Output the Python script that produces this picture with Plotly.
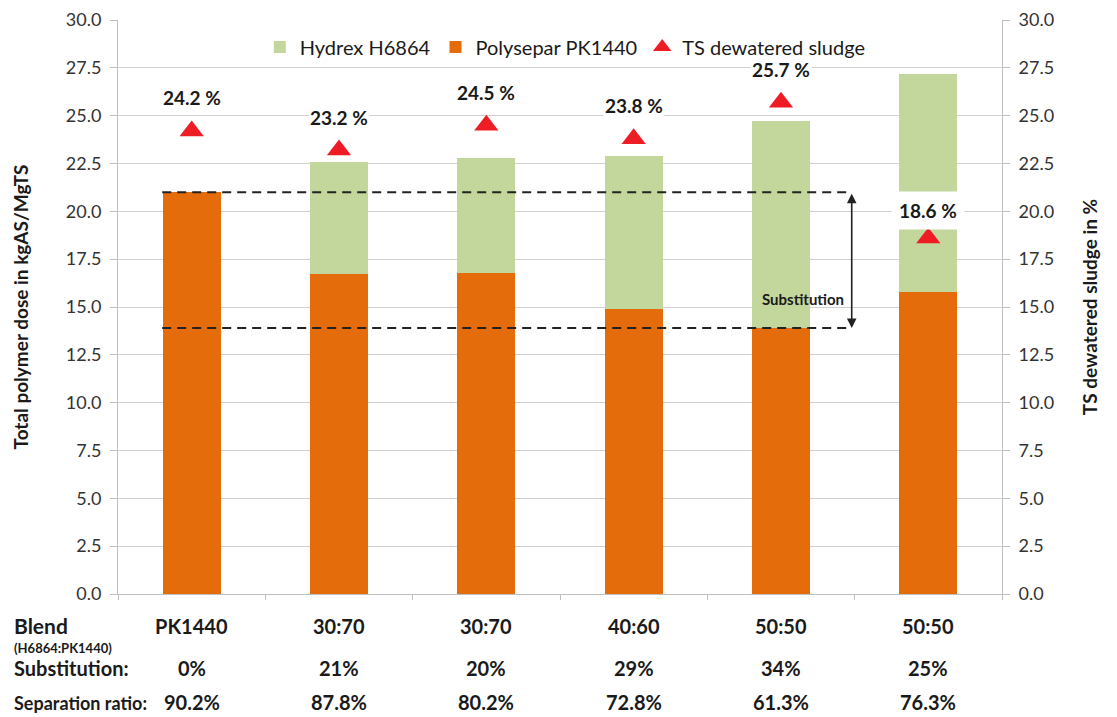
import plotly.graph_objects as go

# ---- data ----
blend = ["PK1440", "30:70", "30:70", "40:60", "50:50", "50:50"]
polysepar = [21.0, 16.7, 16.8, 14.9, 13.9, 15.8]
hydrex = [0.0, 5.9, 6.0, 8.0, 10.8, 11.4]
ts_sludge = [24.2, 23.2, 24.5, 23.8, 25.7, 18.6]
substitution = ["0%", "21%", "20%", "29%", "34%", "25%"]
separation = ["90.2%", "87.8%", "80.2%", "72.8%", "61.3%", "76.3%"]
yticks = [0, 2.5, 5, 7.5, 10, 12.5, 15, 17.5, 20, 22.5, 25, 27.5, 30]

FONT = "Lato, 'Open Sans', sans-serif"
ORANGE = "#E46C0A"
GREEN = "#C3D69B"
RED = "#EE1C25"
TXT = "#1a1a1a"
GRID = "#D0D0D0"
xs = list(range(len(blend)))

fig = go.Figure()
fig.add_trace(go.Bar(x=xs, y=polysepar, name="Polysepar PK1440", marker_color=ORANGE,
                     marker_line_width=0, legendrank=2, width=0.395))
fig.add_trace(go.Bar(x=xs, y=hydrex, name="Hydrex H6864", marker_color=GREEN,
                     marker_line_width=0, legendrank=1, width=0.395))
fig.add_trace(go.Scatter(x=xs, y=ts_sludge, name="TS dewatered sludge", mode="markers",
                         marker=dict(symbol="triangle-up", size=21, color=RED, line_width=0),
                         yaxis="y2", legendrank=3))

# TS labels
for i, v in enumerate(ts_sludge):
    last = (i == len(ts_sludge) - 1)
    fig.add_annotation(x=i, y=v, yref="y2", text=f"<b>{v:.1f} %</b>", showarrow=False,
                       yshift=28 if last else 33, bgcolor="white",
                       borderpad=7 if last else 1,
                       font=dict(family=FONT, size=19, color=TXT))

# substitution reference lines
top = polysepar[0]
bottom = polysepar[4]
for yv in (top, bottom):
    fig.add_shape(type="line", xref="x", yref="y", x0=-0.2, x1=4.47, y0=yv, y1=yv,
                  line=dict(color="#222222", width=2, dash="9px,6px"))
fig.add_annotation(x=4.48, y=bottom, ax=4.48, ay=top, xref="x", yref="y", axref="x", ayref="y",
                   showarrow=True, arrowhead=2, startarrowhead=2, arrowside="end+start",
                   arrowsize=1.2, arrowwidth=1.6, arrowcolor="#222222", text="")
fig.add_annotation(x=4.44, y=15.4, xref="x", yref="y", text="<b>Substitution</b>",
                   showarrow=False, xanchor="right",
                   font=dict(family=FONT, size=15, color=TXT))

# bottom table
rows_y = {"blend": -0.0804, "sub": -0.1538, "sep": -0.2121}
txtfont = dict(family=FONT, size=20, color=TXT)
fig.add_annotation(x=-0.12, y=rows_y["blend"], xref="paper", yref="paper", text="<b>Blend</b>",
                   showarrow=False, xanchor="left", font=dict(family=FONT, size=21, color=TXT))
fig.add_annotation(x=-0.12, y=-0.1116, xref="paper", yref="paper", text="<b>(H6864:PK1440)</b>",
                   showarrow=False, xanchor="left", font=dict(family=FONT, size=13, color=TXT))
fig.add_annotation(x=-0.12, y=rows_y["sub"], xref="paper", yref="paper", text="<b>Substitution:</b>",
                   showarrow=False, xanchor="left", font=dict(family=FONT, size=20, color=TXT))
fig.add_annotation(x=-0.12, y=rows_y["sep"], xref="paper", yref="paper", text="<b>Separation ratio:</b>",
                   showarrow=False, xanchor="left", font=dict(family=FONT, size=18, color=TXT))
for i in xs:
    fig.add_annotation(x=i, y=rows_y["blend"], xref="x", yref="paper", text=f"<b>{blend[i]}</b>",
                       showarrow=False, font=txtfont)
    fig.add_annotation(x=i, y=rows_y["sub"], xref="x", yref="paper", text=f"<b>{substitution[i]}</b>",
                       showarrow=False, font=txtfont)
    fig.add_annotation(x=i, y=rows_y["sep"], xref="x", yref="paper", text=f"<b>{separation[i]}</b>",
                       showarrow=False, font=txtfont)

axis_common = dict(range=[0, 30], tickvals=yticks, ticktext=[f"{t:.1f}" for t in yticks],
                   showline=True, linecolor="#BFBFBF", linewidth=1, ticks="outside",
                   ticklen=7, tickcolor="#BFBFBF", tickfont=dict(family=FONT, size=18, color="#333333"),
                   zeroline=False, ticklabelstandoff=5, ticklabeloverflow="allow",
                   automargin=False)

fig.update_layout(
    template="none",
    width=1109, height=709,
    margin=dict(l=110, r=115, t=12, b=123),
    paper_bgcolor="white", plot_bgcolor="rgba(0,0,0,0)",
    barmode="stack",
    showlegend=True,
    legend=dict(orientation="h", x=0.506, y=0.953, xanchor="center", yanchor="middle",
                traceorder="normal",
                font=dict(family=FONT, size=20, color=TXT), bgcolor="rgba(255,255,255,0)",
                itemwidth=30),
    xaxis=dict(range=[-0.5, 5.5], tickvals=[-0.5, 0.5, 1.5, 2.5, 3.5, 4.5, 5.5],
               ticktext=[""] * 7, showline=True, linecolor="#BFBFBF", ticks="outside",
               ticklen=5, tickcolor="#BFBFBF", showgrid=False, zeroline=False, automargin=False),
    yaxis=dict(**axis_common, showgrid=True, gridcolor=GRID, gridwidth=1,
               title=dict(text="<b>Total polymer dose in kgAS/MgTS</b>", standoff=32,
                          font=dict(family=FONT, size=19, color=TXT))),
    yaxis2=dict(**axis_common, overlaying="y", side="right", anchor="x", showgrid=False,
                title=dict(text="<b>TS dewatered sludge in %</b>", standoff=30,
                           font=dict(family=FONT, size=19, color=TXT))),
)

fig.write_html("out.html")
